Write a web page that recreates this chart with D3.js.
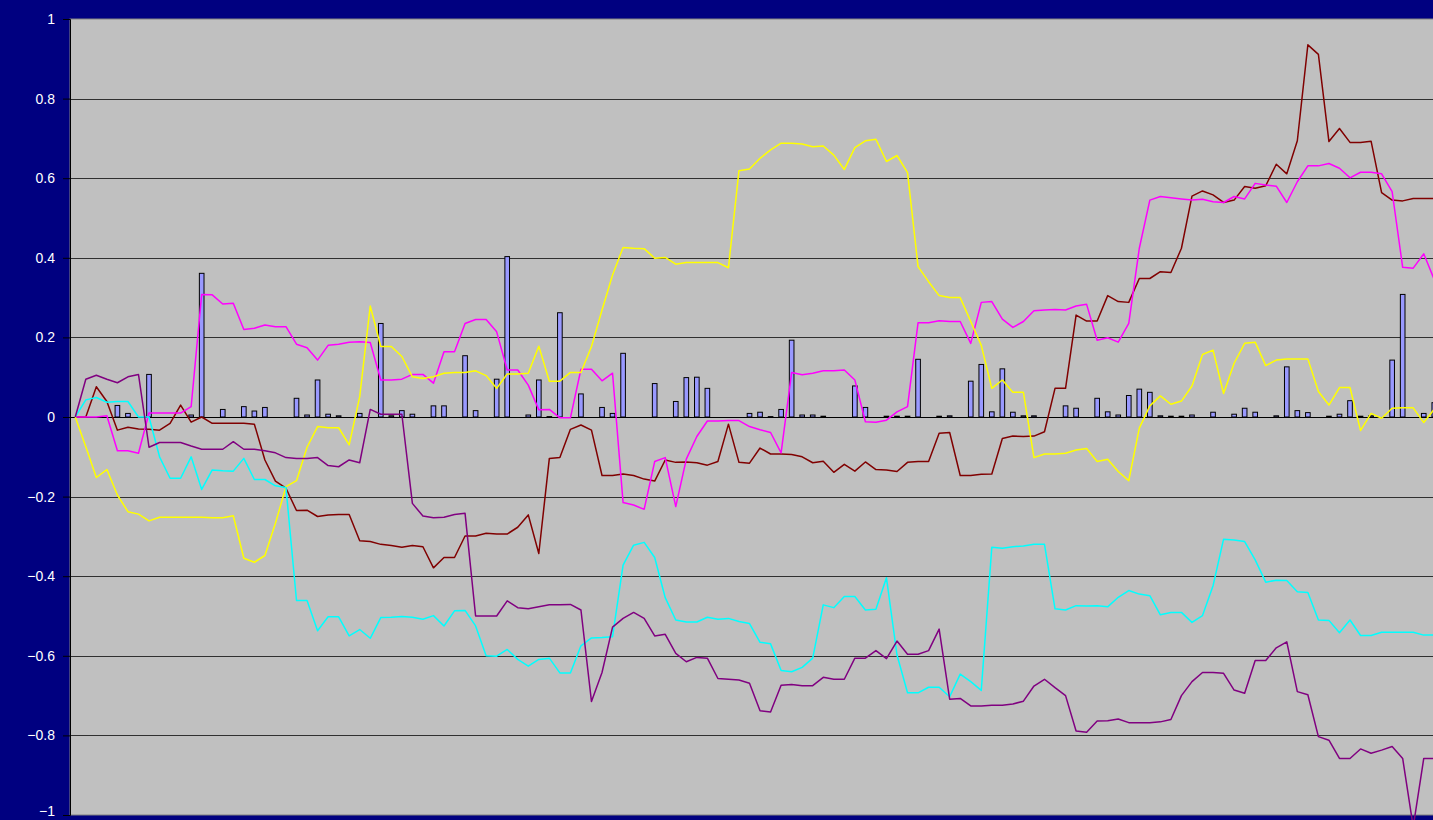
<!DOCTYPE html>
<html>
<head>
<meta charset="utf-8">
<script src="https://cdn.jsdelivr.net/npm/d3@7"></script>
<style>
  html, body { margin: 0; padding: 0; background: #000080; overflow: hidden; }
  svg { display: block; }
</style>
</head>
<body>
<svg id="chart" width="1433" height="820"></svg>
<script>
// Category slots along the horizontal axis (no labels are shown for them)
const categories = d3.range(130);

// Tick values on the value axis
const yTicks = [1, 0.8, 0.6, 0.4, 0.2, 0, -0.2, -0.4, -0.6, -0.8, -1];

// Column series
const barValues = [
  0,0,0,0,0.029,0.009,0,0.107,0,0,
  0,0.005,0.361,0,0.019,0,0.026,0.015,0.024,0,
  0,0.047,0.005,0.093,0.007,0.003,0,0.009,0,0.235,
  0.003,0.016,0.007,0,0.028,0.028,0,0.154,0.016,0,
  0.095,0.403,0,0.005,0.093,0.001,0.262,0,0.058,0,
  0.024,0.009,0.160,0,0,0.084,0,0.039,0.099,0.100,
  0.072,0,0,0,0.009,0.012,0.001,0.019,0.193,0.005,
  0.005,0.002,0,0,0.078,0.024,0,0.002,0.002,0.002,
  0.145,0,0.002,0.003,0,0.090,0.132,0.013,0.121,0.012,
  0.003,0.003,0,0,0.028,0.022,0,0.047,0.013,0.005,
  0.054,0.070,0.062,0.003,0.002,0.002,0.005,0,0.012,0,
  0.007,0.022,0.012,0,0.003,0.126,0.016,0.011,0,0.002,
  0.007,0.041,0.002,0.003,0,0.143,0.308,0,0.009,0.036
];

// Line series
const maroonValues = [
  0,0,0.076,0.039,-0.033,-0.026,-0.030,-0.031,-0.033,-0.016,
  0.030,-0.013,0.000,-0.016,-0.016,-0.016,-0.016,-0.018,-0.108,-0.161,
  -0.179,-0.235,-0.234,-0.250,-0.246,-0.245,-0.245,-0.311,-0.313,-0.320,
  -0.323,-0.327,-0.323,-0.326,-0.379,-0.353,-0.353,-0.299,-0.299,-0.292,
  -0.294,-0.294,-0.277,-0.246,-0.343,-0.104,-0.102,-0.031,-0.020,-0.033,
  -0.147,-0.147,-0.143,-0.147,-0.156,-0.161,-0.108,-0.114,-0.113,-0.115,
  -0.121,-0.112,-0.018,-0.114,-0.116,-0.078,-0.093,-0.093,-0.094,-0.100,
  -0.115,-0.111,-0.139,-0.119,-0.136,-0.113,-0.132,-0.133,-0.137,-0.114,
  -0.112,-0.112,-0.041,-0.039,-0.147,-0.147,-0.144,-0.143,-0.054,-0.048,
  -0.049,-0.048,-0.037,0.072,0.072,0.256,0.241,0.241,0.305,0.290,
  0.288,0.348,0.348,0.365,0.363,0.424,0.555,0.568,0.558,0.539,
  0.545,0.579,0.575,0.581,0.635,0.611,0.694,0.935,0.911,0.692,
  0.725,0.690,0.690,0.693,0.564,0.545,0.543,0.549,0.549,0.549
];

const magentaValues = [
  0,0,0,0.003,-0.085,-0.085,-0.091,0.010,0.010,0.010,
  0.010,0.026,0.308,0.307,0.284,0.286,0.220,0.223,0.231,0.227,
  0.227,0.183,0.174,0.143,0.180,0.183,0.188,0.189,0.187,0.093,
  0.093,0.095,0.107,0.107,0.085,0.164,0.164,0.235,0.245,0.245,
  0.214,0.118,0.118,0.080,0.018,0.019,-0.002,-0.002,0.120,0.120,
  0.091,0.110,-0.215,-0.221,-0.232,-0.112,-0.102,-0.225,-0.106,-0.049,
  -0.010,-0.010,-0.009,-0.009,-0.024,-0.032,-0.039,-0.090,0.112,0.106,
  0.110,0.116,0.116,0.118,0.093,-0.012,-0.013,-0.008,0.013,0.026,
  0.237,0.237,0.242,0.240,0.240,0.185,0.288,0.290,0.246,0.225,
  0.240,0.267,0.269,0.270,0.269,0.279,0.283,0.193,0.199,0.188,
  0.235,0.424,0.545,0.554,0.551,0.548,0.545,0.547,0.541,0.539,
  0.554,0.548,0.587,0.583,0.580,0.539,0.591,0.631,0.631,0.637,
  0.625,0.601,0.615,0.615,0.611,0.566,0.376,0.374,0.410,0.345
];

const yellowValues = [
  0,-0.075,-0.152,-0.132,-0.196,-0.238,-0.244,-0.261,-0.252,-0.252,
  -0.252,-0.252,-0.252,-0.253,-0.253,-0.248,-0.355,-0.365,-0.348,-0.267,
  -0.175,-0.160,-0.076,-0.024,-0.027,-0.027,-0.070,0.051,0.279,0.177,
  0.177,0.152,0.101,0.097,0.101,0.110,0.112,0.112,0.116,0.104,
  0.072,0.108,0.108,0.110,0.178,0.090,0.090,0.112,0.112,0.177,
  0.269,0.357,0.426,0.424,0.423,0.399,0.401,0.384,0.388,0.388,
  0.388,0.388,0.375,0.619,0.623,0.650,0.671,0.688,0.688,0.686,
  0.679,0.681,0.658,0.622,0.677,0.694,0.698,0.642,0.657,0.614,
  0.378,0.340,0.305,0.300,0.300,0.240,0.180,0.072,0.093,0.062,
  0.062,-0.102,-0.093,-0.093,-0.091,-0.083,-0.079,-0.112,-0.106,-0.137,
  -0.160,-0.028,0.028,0.053,0.032,0.040,0.078,0.157,0.168,0.059,
  0.135,0.185,0.188,0.129,0.143,0.146,0.146,0.146,0.064,0.030,
  0.074,0.074,-0.034,0.009,-0.003,0.022,0.023,0.023,-0.014,0.020
];

const cyanValues = [
  0,0.043,0.049,0.037,0.039,0.039,0,0,-0.100,-0.154,
  -0.154,-0.100,-0.182,-0.133,-0.135,-0.136,-0.104,-0.157,-0.157,-0.173,
  -0.177,-0.461,-0.461,-0.537,-0.502,-0.502,-0.550,-0.534,-0.556,-0.504,
  -0.503,-0.501,-0.503,-0.508,-0.499,-0.525,-0.487,-0.486,-0.525,-0.600,
  -0.601,-0.584,-0.609,-0.626,-0.609,-0.606,-0.643,-0.643,-0.575,-0.555,
  -0.554,-0.552,-0.372,-0.322,-0.315,-0.353,-0.454,-0.510,-0.515,-0.515,
  -0.503,-0.508,-0.506,-0.514,-0.519,-0.566,-0.570,-0.637,-0.640,-0.629,
  -0.606,-0.472,-0.479,-0.451,-0.451,-0.485,-0.483,-0.404,-0.598,-0.693,
  -0.693,-0.679,-0.679,-0.703,-0.646,-0.665,-0.687,-0.327,-0.330,-0.326,
  -0.324,-0.320,-0.320,-0.482,-0.485,-0.474,-0.475,-0.474,-0.477,-0.453,
  -0.436,-0.445,-0.449,-0.497,-0.491,-0.491,-0.516,-0.499,-0.424,-0.307,
  -0.309,-0.313,-0.359,-0.415,-0.410,-0.411,-0.439,-0.441,-0.510,-0.511,
  -0.542,-0.510,-0.549,-0.549,-0.541,-0.541,-0.541,-0.541,-0.548,-0.548
];

const purpleValues = [
  0,0.095,0.105,0.095,0.086,0.101,0.107,-0.076,-0.064,-0.064,
  -0.064,-0.073,-0.081,-0.081,-0.081,-0.062,-0.081,-0.081,-0.085,-0.090,
  -0.102,-0.104,-0.104,-0.102,-0.122,-0.125,-0.108,-0.115,0.019,0.007,
  0.007,0.007,-0.217,-0.249,-0.253,-0.252,-0.245,-0.242,-0.500,-0.500,
  -0.500,-0.462,-0.479,-0.482,-0.477,-0.472,-0.472,-0.471,-0.485,-0.715,
  -0.642,-0.528,-0.506,-0.491,-0.506,-0.550,-0.546,-0.594,-0.615,-0.604,
  -0.606,-0.657,-0.659,-0.661,-0.669,-0.738,-0.741,-0.674,-0.672,-0.675,
  -0.675,-0.654,-0.659,-0.659,-0.606,-0.606,-0.587,-0.607,-0.563,-0.596,
  -0.596,-0.587,-0.533,-0.709,-0.707,-0.726,-0.726,-0.724,-0.724,-0.721,
  -0.714,-0.676,-0.659,-0.680,-0.700,-0.789,-0.792,-0.764,-0.763,-0.759,
  -0.768,-0.768,-0.768,-0.766,-0.760,-0.700,-0.665,-0.642,-0.642,-0.644,
  -0.686,-0.694,-0.612,-0.612,-0.580,-0.565,-0.690,-0.698,-0.803,-0.812,
  -0.858,-0.858,-0.834,-0.845,-0.837,-0.828,-0.858,-1.030,-0.858,-0.858
];

// Series drawn as lines, in drawing order
const lineSeries = [
  { name: "maroon",  values: maroonValues,  color: "#800000" },
  { name: "magenta", values: magentaValues, color: "#FF00FF" },
  { name: "yellow",  values: yellowValues,  color: "#FFFF00" },
  { name: "cyan",    values: cyanValues,    color: "#00FFFF" },
  { name: "purple",  values: purpleValues,  color: "#800080" }
];

// ---- layout ----
const svg = d3.select("#chart");
const W = 1433, H = 820;
const plot = { left: 70, top: 19, bottom: 815, step: 10.535 };
plot.right = plot.left + plot.step * categories.length;

svg.append("rect").attr("width", W).attr("height", H).attr("fill", "#000080");

const x = d3.scaleBand().domain(categories).range([plot.left, plot.right]);
const xBar = d3.scaleBand().domain(categories).range([plot.left, plot.right])
  .paddingInner(0.56).paddingOuter(0.28);
const y = d3.scaleLinear().domain([-1, 1]).range([plot.bottom, plot.top]);
const cx = i => x(i) + x.bandwidth() / 2;

// plot area
svg.append("rect")
  .attr("x", plot.left).attr("y", plot.top)
  .attr("width", plot.right - plot.left).attr("height", plot.bottom - plot.top)
  .attr("fill", "#C0C0C0").attr("stroke", "#808080").attr("stroke-width", 1);

// gridlines
svg.append("g").selectAll("line")
  .data(yTicks.filter(t => t !== 1 && t !== -1))
  .join("line")
  .attr("x1", plot.left).attr("x2", plot.right)
  .attr("y1", d => Math.round(y(d)) + 0.5).attr("y2", d => Math.round(y(d)) + 0.5)
  .attr("stroke", "#000000").attr("stroke-width", 1).attr("opacity", 0.75);

// value axis with ticks and labels
const yAxis = d3.axisLeft(y).tickValues(yTicks).tickSize(7).tickPadding(8)
  .tickFormat(d => d === 0 ? "0" : d3.format("")(d).replace("-", "\u2212"));
const axisG = svg.append("g").attr("transform", `translate(${plot.left},0)`).call(yAxis);
axisG.select(".domain").attr("stroke", "#000000");
axisG.selectAll(".tick line").attr("stroke", "#000000");
axisG.selectAll(".tick text")
  .attr("fill", "#FFFFFF")
  .attr("font-family", "'Liberation Sans', Arial, sans-serif")
  .attr("font-size", 14);
// the lowest label sits on the bottom edge; lift it so it stays inside the frame
axisG.selectAll(".tick text").filter(d => d === -1).attr("dy", "0.05em");

svg.append("clipPath").attr("id", "plotClip")
  .append("rect")
  .attr("x", plot.left).attr("y", plot.top - 2)
  .attr("width", plot.right - plot.left).attr("height", plot.bottom - plot.top + 8);

// columns
svg.append("g").selectAll("rect")
  .data(categories.filter(i => barValues[i] > 0))
  .join("rect")
  .attr("x", i => xBar(i))
  .attr("width", xBar.bandwidth())
  .attr("y", i => y(barValues[i]))
  .attr("height", i => y(0) - y(barValues[i]))
  .attr("fill", "#9999FF")
  .attr("stroke", "#000000")
  .attr("stroke-width", 1);

// zero line drawn above the columns
svg.append("line")
  .attr("x1", plot.left).attr("x2", plot.right)
  .attr("y1", Math.round(y(0)) + 0.5).attr("y2", Math.round(y(0)) + 0.5)
  .attr("stroke", "#000000").attr("stroke-width", 1);

// lines
const line = d3.line().x((d, i) => cx(i)).y(d => y(d));
svg.append("g").attr("clip-path", "url(#plotClip)")
  .selectAll("path")
  .data(lineSeries)
  .join("path")
  .attr("d", s => line(s.values))
  .attr("fill", "none")
  .attr("stroke", s => s.color)
  .attr("stroke-width", 1.5)
  .attr("stroke-linejoin", "round");
</script>
</body>
</html>
